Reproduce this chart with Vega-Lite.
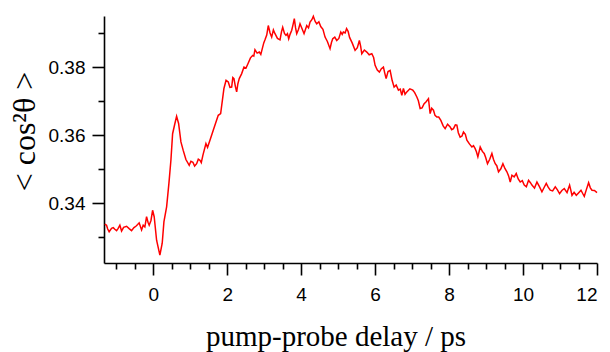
{
  "$schema": "https://vega.github.io/schema/vega-lite/v6.json",
  "width": 493,
  "height": 247,
  "autosize": {"type": "none"},
  "padding": {"left": 104, "top": 16, "right": 13, "bottom": 89},
  "background": "white",
  "config": {"view": {"stroke": null}},
  "data": {"values": [
    {"t": -1.307, "v": 0.3339}, {"t": -1.261, "v": 0.3336}, {"t": -1.23, "v": 0.3325}, {"t": -1.191, "v": 0.3317}, {"t": -1.126, "v": 0.3327},
    {"t": -1.08, "v": 0.3329}, {"t": -1.037, "v": 0.3324}, {"t": -0.99, "v": 0.3320}, {"t": -0.947, "v": 0.3327}, {"t": -0.901, "v": 0.3336}, {"t": -0.855, "v": 0.3319},
    {"t": -0.80, "v": 0.3330}, {"t": -0.720, "v": 0.3333}, {"t": -0.65, "v": 0.3326}, {"t": -0.585, "v": 0.3320}, {"t": -0.52, "v": 0.3329}, {"t": -0.468, "v": 0.3333}, {"t": -0.42, "v": 0.3338}, {"t": -0.379, "v": 0.3343},
    {"t": -0.314, "v": 0.3322}, {"t": -0.27, "v": 0.3336}, {"t": -0.225, "v": 0.3331}, {"t": -0.179, "v": 0.3361}, {"t": -0.14, "v": 0.3345}, {"t": -0.108, "v": 0.3336},
    {"t": -0.06, "v": 0.3350}, {"t": -0.016, "v": 0.3380}, {"t": 0.027, "v": 0.3361}, {"t": 0.092, "v": 0.3292}, {"t": 0.181, "v": 0.3248},
    {"t": 0.244, "v": 0.3283}, {"t": 0.290, "v": 0.3346}, {"t": 0.363, "v": 0.3390}, {"t": 0.425, "v": 0.3459},
    {"t": 0.479, "v": 0.3527}, {"t": 0.525, "v": 0.3605}, {"t": 0.587, "v": 0.3635}, {"t": 0.633, "v": 0.3656},
    {"t": 0.687, "v": 0.3635}, {"t": 0.750, "v": 0.3581}, {"t": 0.812, "v": 0.3556}, {"t": 0.885, "v": 0.3529},
    {"t": 0.974, "v": 0.3512}, {"t": 1.02, "v": 0.3524}, {"t": 1.074, "v": 0.3521}, {"t": 1.12, "v": 0.3510}, {"t": 1.175, "v": 0.3517}, {"t": 1.22, "v": 0.3530}, {"t": 1.264, "v": 0.3527},
    {"t": 1.30, "v": 0.3520}, {"t": 1.345, "v": 0.3542}, {"t": 1.426, "v": 0.3576}, {"t": 1.47, "v": 0.3565}, {"t": 1.535, "v": 0.3586}, {"t": 1.624, "v": 0.3615},
    {"t": 1.759, "v": 0.3659}, {"t": 1.824, "v": 0.3664}, {"t": 1.913, "v": 0.3738}, {"t": 1.97, "v": 0.3762}, {"t": 2.030, "v": 0.3757},
    {"t": 2.076, "v": 0.3741}, {"t": 2.122, "v": 0.3742}, {"t": 2.153, "v": 0.3770}, {"t": 2.184, "v": 0.3767}, {"t": 2.22, "v": 0.3745}, {"t": 2.257, "v": 0.3728}, {"t": 2.29, "v": 0.3752}, {"t": 2.327, "v": 0.3767},
    {"t": 2.39, "v": 0.3781}, {"t": 2.455, "v": 0.3801}, {"t": 2.51, "v": 0.3798}, {"t": 2.571, "v": 0.3813}, {"t": 2.63, "v": 0.3828}, {"t": 2.690, "v": 0.3835}, {"t": 2.72, "v": 0.3833}, {"t": 2.752, "v": 0.3852},
    {"t": 2.81, "v": 0.3842}, {"t": 2.869, "v": 0.3845}, {"t": 2.91, "v": 0.3838}, {"t": 2.950, "v": 0.3855}, {"t": 2.99, "v": 0.3872}, {"t": 3.023, "v": 0.3881}, {"t": 3.07, "v": 0.3895}, {"t": 3.112, "v": 0.3923},
    {"t": 3.16, "v": 0.3901}, {"t": 3.204, "v": 0.3889}, {"t": 3.25, "v": 0.3910}, {"t": 3.294, "v": 0.3899}, {"t": 3.36, "v": 0.3885}, {"t": 3.429, "v": 0.3881}, {"t": 3.47, "v": 0.3905}, {"t": 3.502, "v": 0.3918},
    {"t": 3.55, "v": 0.3900}, {"t": 3.591, "v": 0.3894}, {"t": 3.63, "v": 0.3899}, {"t": 3.664, "v": 0.3884}, {"t": 3.70, "v": 0.3897}, {"t": 3.746, "v": 0.3909}, {"t": 3.78, "v": 0.3925}, {"t": 3.816, "v": 0.3943},
    {"t": 3.85, "v": 0.3916}, {"t": 3.881, "v": 0.3899}, {"t": 3.93, "v": 0.3912}, {"t": 3.970, "v": 0.3928}, {"t": 4.02, "v": 0.3915}, {"t": 4.079, "v": 0.3899}, {"t": 4.11, "v": 0.3909}, {"t": 4.152, "v": 0.3923},
    {"t": 4.20, "v": 0.3916}, {"t": 4.241, "v": 0.3933}, {"t": 4.29, "v": 0.3940}, {"t": 4.330, "v": 0.3950}, {"t": 4.38, "v": 0.3935}, {"t": 4.422, "v": 0.3928}, {"t": 4.48, "v": 0.3934}, {"t": 4.530, "v": 0.3920},
    {"t": 4.59, "v": 0.3912}, {"t": 4.647, "v": 0.3889}, {"t": 4.71, "v": 0.3876}, {"t": 4.782, "v": 0.3855}, {"t": 4.82, "v": 0.3873}, {"t": 4.855, "v": 0.3884}, {"t": 4.91, "v": 0.3889}, {"t": 4.963, "v": 0.3879},
    {"t": 5.02, "v": 0.3885}, {"t": 5.072, "v": 0.3904}, {"t": 5.11, "v": 0.3897}, {"t": 5.142, "v": 0.3904}, {"t": 5.19, "v": 0.3901}, {"t": 5.229, "v": 0.3914}, {"t": 5.27, "v": 0.3906}, {"t": 5.310, "v": 0.3888},
    {"t": 5.38, "v": 0.3872}, {"t": 5.459, "v": 0.3850}, {"t": 5.52, "v": 0.3858}, {"t": 5.575, "v": 0.3879}, {"t": 5.61, "v": 0.3862}, {"t": 5.640, "v": 0.3840}, {"t": 5.71, "v": 0.3851}, {"t": 5.776, "v": 0.3845},
    {"t": 5.84, "v": 0.3837}, {"t": 5.911, "v": 0.3840}, {"t": 5.96, "v": 0.3829}, {"t": 6.000, "v": 0.3806}, {"t": 6.06, "v": 0.3792}, {"t": 6.116, "v": 0.3786}, {"t": 6.17, "v": 0.3796}, {"t": 6.225, "v": 0.3801},
    {"t": 6.26, "v": 0.3784}, {"t": 6.298, "v": 0.3767}, {"t": 6.35, "v": 0.3788}, {"t": 6.406, "v": 0.3791}, {"t": 6.46, "v": 0.3762}, {"t": 6.514, "v": 0.3742}, {"t": 6.57, "v": 0.3748}, {"t": 6.631, "v": 0.3733},
    {"t": 6.68, "v": 0.3736}, {"t": 6.723, "v": 0.3718}, {"t": 6.766, "v": 0.3738}, {"t": 6.81, "v": 0.3721}, {"t": 6.858, "v": 0.3728}, {"t": 6.94, "v": 0.3737}, {"t": 7.020, "v": 0.3733},
    {"t": 7.07, "v": 0.3726}, {"t": 7.129, "v": 0.3713}, {"t": 7.17, "v": 0.3702}, {"t": 7.218, "v": 0.3679}, {"t": 7.27, "v": 0.3681}, {"t": 7.326, "v": 0.3693}, {"t": 7.38, "v": 0.3699}, {"t": 7.443, "v": 0.3708},
    {"t": 7.488, "v": 0.3664}, {"t": 7.53, "v": 0.3680}, {"t": 7.578, "v": 0.3674}, {"t": 7.62, "v": 0.3659}, {"t": 7.670, "v": 0.3654}, {"t": 7.72, "v": 0.3654}, {"t": 7.778, "v": 0.3644},
    {"t": 7.84, "v": 0.3628}, {"t": 7.894, "v": 0.3620}, {"t": 7.96, "v": 0.3633}, {"t": 8.030, "v": 0.3625}, {"t": 8.07, "v": 0.3617}, {"t": 8.119, "v": 0.3620}, {"t": 8.17, "v": 0.3631}, {"t": 8.211, "v": 0.3630},
    {"t": 8.25, "v": 0.3608}, {"t": 8.300, "v": 0.3595}, {"t": 8.35, "v": 0.3598}, {"t": 8.390, "v": 0.3610}, {"t": 8.44, "v": 0.3603}, {"t": 8.482, "v": 0.3586}, {"t": 8.55, "v": 0.3575}, {"t": 8.617, "v": 0.3566},
    {"t": 8.66, "v": 0.3570}, {"t": 8.706, "v": 0.3561}, {"t": 8.74, "v": 0.3552}, {"t": 8.779, "v": 0.3537}, {"t": 8.842, "v": 0.3566}, {"t": 8.90, "v": 0.3553}, {"t": 8.950, "v": 0.3547},
    {"t": 8.99, "v": 0.3535}, {"t": 9.039, "v": 0.3517}, {"t": 9.10, "v": 0.3530}, {"t": 9.158, "v": 0.3547}, {"t": 9.20, "v": 0.3530}, {"t": 9.248, "v": 0.3517}, {"t": 9.29, "v": 0.3511}, {"t": 9.337, "v": 0.3493},
    {"t": 9.40, "v": 0.3502}, {"t": 9.456, "v": 0.3517}, {"t": 9.51, "v": 0.3503}, {"t": 9.564, "v": 0.3493}, {"t": 9.61, "v": 0.3481}, {"t": 9.654, "v": 0.3463}, {"t": 9.700, "v": 0.3483},
    {"t": 9.76, "v": 0.3478}, {"t": 9.816, "v": 0.3488}, {"t": 9.87, "v": 0.3472}, {"t": 9.924, "v": 0.3463}, {"t": 9.98, "v": 0.3467}, {"t": 10.033, "v": 0.3454}, {"t": 10.09, "v": 0.3449}, {"t": 10.149, "v": 0.3468},
    {"t": 10.20, "v": 0.3461}, {"t": 10.241, "v": 0.3454}, {"t": 10.31, "v": 0.3445}, {"t": 10.376, "v": 0.3463}, {"t": 10.44, "v": 0.3450}, {"t": 10.511, "v": 0.3434}, {"t": 10.57, "v": 0.3447}, {"t": 10.628, "v": 0.3459},
    {"t": 10.68, "v": 0.3448}, {"t": 10.736, "v": 0.3439}, {"t": 10.80, "v": 0.3437}, {"t": 10.872, "v": 0.3449}, {"t": 10.93, "v": 0.3440}, {"t": 10.988, "v": 0.3429}, {"t": 11.05, "v": 0.3438}, {"t": 11.115, "v": 0.3444},
    {"t": 11.19, "v": 0.3432}, {"t": 11.259, "v": 0.3454}, {"t": 11.29, "v": 0.3440}, {"t": 11.324, "v": 0.3424}, {"t": 11.38, "v": 0.3433}, {"t": 11.440, "v": 0.3424}, {"t": 11.50, "v": 0.3431}, {"t": 11.567, "v": 0.3439},
    {"t": 11.61, "v": 0.3430}, {"t": 11.656, "v": 0.3421}, {"t": 11.71, "v": 0.3440}, {"t": 11.773, "v": 0.3461}, {"t": 11.82, "v": 0.3446}, {"t": 11.865, "v": 0.3439}, {"t": 11.93, "v": 0.3438}, {"t": 12.000, "v": 0.3432}
  ]},
  "layer": [
    {
      "mark": {"type": "line", "color": "#ff0000", "strokeWidth": 1.5, "interpolate": "linear"},
      "encoding": {
        "x": {"field": "t", "type": "quantitative",
          "scale": {"domain": [-1.33, 12], "nice": false, "zero": false},
          "axis": {"orient": "bottom", "values": [0, 2, 4, 6, 8, 10, 12], "grid": false,
            "domainColor": "#000", "domainWidth": 1.6, "tickColor": "#000", "tickWidth": 1.6, "tickSize": 12,
            "labelFont": "Liberation Sans", "labelFontSize": 19, "labelColor": "#000", "labelPadding": 10,
            "title": "pump-probe delay / ps", "titleFont": "Liberation Serif", "titleFontSize": 29,
            "titleFontWeight": "normal", "titleColor": "#000", "titleX": 231.5, "titleY": 82.5,
            "titleAnchor": "middle", "titleAlign": "center", "titleBaseline": "alphabetic"}},
        "y": {"field": "v", "type": "quantitative",
          "scale": {"domain": [0.3225, 0.3951], "nice": false, "zero": false},
          "axis": {"orient": "left", "values": [0.34, 0.36, 0.38], "format": ".2f", "grid": false,
            "domainColor": "#000", "domainWidth": 1.6, "tickColor": "#000", "tickWidth": 1.6, "tickSize": 12,
            "labelFont": "Liberation Sans", "labelFontSize": 19, "labelColor": "#000", "labelPadding": 7,
            "title": "< cos²θ >", "titleFont": "Liberation Serif", "titleFontSize": 32,
            "titleFontWeight": "normal", "titleColor": "#000", "titleX": -69.5, "titleY": 115,
            "titleAngle": 270, "titleAnchor": "middle", "titleAlign": "center", "titleBaseline": "alphabetic"}}
      }
    },
    {
      "mark": {"type": "line", "strokeOpacity": 0},
      "encoding": {
        "x": {"field": "t", "type": "quantitative",
          "scale": {"domain": [-1.33, 12], "nice": false, "zero": false},
          "axis": {"orient": "bottom", "values": [-1, -0.5, 0.5, 1, 1.5, 2.5, 3, 3.5, 4.5, 5, 5.5, 6.5, 7, 7.5, 8.5, 9, 9.5, 10.5, 11, 11.5],
            "grid": false, "domain": false, "labels": false, "title": null,
            "tickColor": "#000", "tickWidth": 1.6, "tickSize": 6}},
        "y": {"field": "v", "type": "quantitative",
          "scale": {"domain": [0.3225, 0.3951], "nice": false, "zero": false},
          "axis": {"orient": "left", "values": [0.33, 0.35, 0.37, 0.39],
            "grid": false, "domain": false, "labels": false, "title": null,
            "tickColor": "#000", "tickWidth": 1.6, "tickSize": 6}}
      }
    }
  ],
  "resolve": {"axis": {"x": "independent", "y": "independent"}}
}
